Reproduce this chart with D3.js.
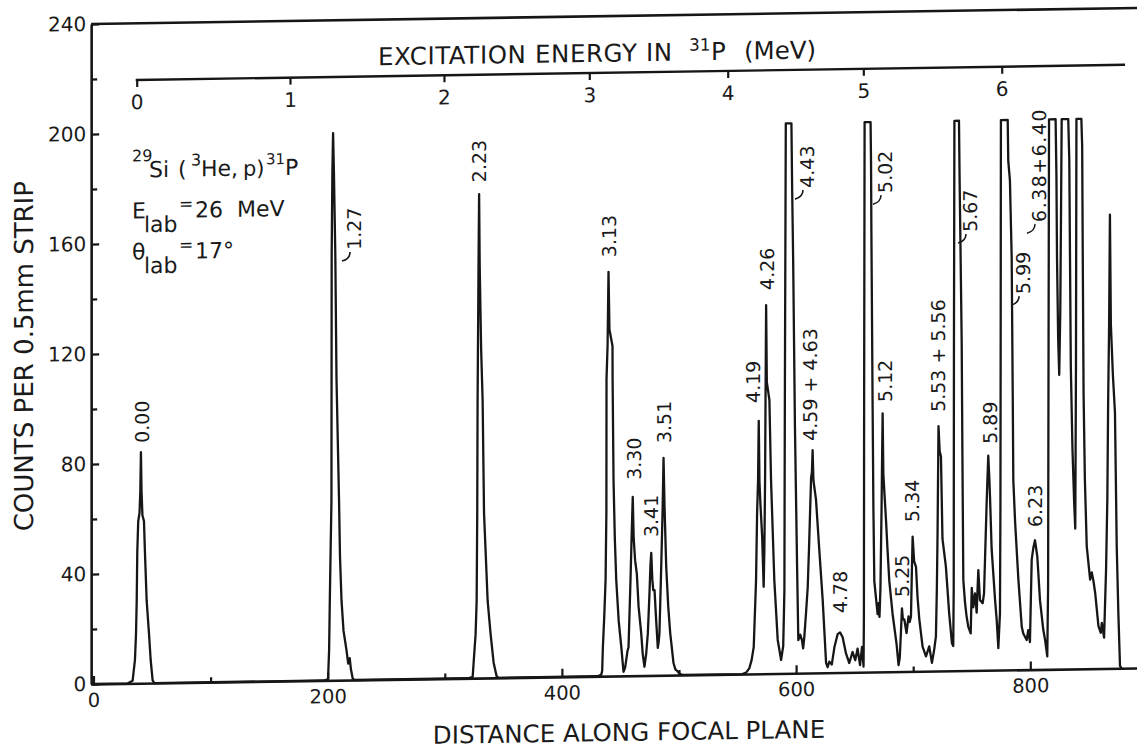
<!DOCTYPE html>
<html>
<head>
<meta charset="utf-8">
<script src="https://cdn.jsdelivr.net/npm/d3@7"></script>
<style>
  body { margin: 0; background: #fff; }
  text { font-family: "DejaVu Sans", sans-serif; fill: #1a1a1a; }
</style>
</head>
<body>
<div id="chart"></div>
<script>
// counts per 0.5 mm strip against distance along the focal plane
var spectrum = [
	[0,0],[29,0],
	[33.4,1],[35.4,8.5],[36.3,18],[36.9,30],[37.4,48],[38.2,59],[39.3,62],[40,70],[40.5,84],[41,70],[41.8,61],[43.1,59],[43.9,48],[45.4,30],[47.4,18],[48.8,8.5],[50.5,1],[52,0],
	[197,0],
	[200.3,0.5],[201.2,11],[201.8,29],[202.6,50],[203.2,65],[203.3,110],[203.4,155],[204,185],[204.6,199],[205.3,185],[206.5,155],[207.5,110],[209.7,65],[210.5,45],[211.8,29],[213.5,18],[216,11],[217.5,6],[218.8,8],[219.8,4],[221.4,0.5],[223,0],
	[320,0],
	[323.8,0.5],[324.6,5.5],[326.3,16],[327.2,28],[327.7,60],[328,101],[328.8,150],[329.3,176],[329.8,150],[331,120],[332.3,101],[333.5,60],[336.6,28],[339.1,16],[341.7,5.5],[344.3,0.5],[346,0],
	[430,0],
	[433.6,0.5],[434.4,2],[435,10.6],[436.2,22],[437.3,35],[438,60],[438.1,108],[439,120],[439.8,147],[440.6,126],[443.2,120],[443.3,108],[444.1,71],[445.2,50],[446.4,35],[448.5,20],[450.7,10.6],[452.6,1.5],[454,3],[455,6],[456,9],[456.9,10.4],
	[458.6,35],[459.5,50],[460.5,65],[461.3,50],[462.5,42],[464,37],[465.5,25],[467.7,15.5],[469,8],[470.5,3.2],
	[472,8],[473.4,15.4],[474.8,30],[475.6,40],[476.3,44.6],[477.2,35],[478,31],[479.1,31],[480.5,20],[481.9,10],[482.6,12],
	[483.3,15.3],[484.8,39.3],[486,60],[486.8,79],[487.6,62],[489.1,39.3],[490.8,25],[492.5,15.3],[495.3,4.4],[497,2],[498.5,1.5],[500.4,0.5],[503,0],
	[554,0],
	[557.3,0.5],[560,2],[562,5],[563.8,9.7],[565.8,34],[566.7,58.5],[567.5,70],[568.1,92],[568.7,70],[569.5,62],[571,50],[572.3,31.6],
	[572.9,45],[573.5,70],[573.9,100],[574.4,134],[575,106],[577.2,99.5],[578.6,70.4],[581.4,34],[584.3,12.2],[587.2,4.9],
	[589,10],[590,30],[590.4,100],[591.2,200],[596,200],[596.6,177],[597.5,150],[599,90],[600.8,40],[601.9,12],[603.5,14],[605,12],[606,9],[607,13],
	[608.5,22],[609.9,31],[611,45],[612.8,71],[613.5,73],[614.1,81],[614.8,70],[617,63],[619.8,44.7],[622.7,26.5],[625.6,3.6],[626.9,2],
	[628.4,4],[630.5,3],[632.7,9.2],[635.5,14],[637.5,14.6],[639.7,12.9],[642.6,6.9],[645.4,3.4],[648.2,7.4],[650.5,4.4],[652.5,8.6],[654.6,2.6],[656.3,9.2],[657.6,2],
	[657.9,20],[658.1,100],[658.5,200],[663.6,200],[664,185],[664.3,160],[664.8,130],[665.3,99],[666,60],[666.8,33],[669.6,21],[670.5,25],[671.2,20],
	[672,30],[673,60],[673.5,80],[673.9,94],[674.5,72],[675.3,66],[676.8,55],[678,45],[679.6,33],[682.4,21],[685.8,10],[687.5,2.4],
	[688.5,5],[689.5,14],[690.4,23],[691.2,19],[692.4,19],[694.3,14],[696,20],[697,18],[698.1,20],[698.8,35],[699.5,49],[700.8,40],[702.4,38],[703.7,27],[705.2,19],
	[708,9],[710.9,5.4],[713.7,9],[716,3],[718,8],[719.4,12.6],[720.2,30],[720.8,50],[721.6,89],[722.6,80],[723.7,78],[725,48],[727.9,38],[730.7,21],[733.1,10],[734.2,9],
	[734.6,30],[734.8,120],[735.2,200],[739.1,200],[739.6,180],[740.5,150],[741.4,120],[742,80],[742.8,33],[744.2,25],[745.5,20],[747,16],[749.1,13.5],
	[750,30],[751.3,23],[752.8,28],[754.2,21],[755.6,36.5],[757,25.6],[759.3,24.4],[760.5,28],[762.8,62],[764.1,78],[765,70],[765.6,63],[767,44],[769.9,25.6],[771.3,18.3],[772.7,8],
	[774.1,20.8],[774.5,60],[774.7,120],[774.9,200],[780.7,200],[781.2,185],[782.6,178],[784.1,150],[785,100],[785.5,69],[787,54],[789.8,33],[792.7,15.6],[794,13.2],[796.9,10.8],[798.3,14.4],[799.7,10],
	[801.2,40],[802.5,44],[804,47],[806,41],[808.3,25],[811.1,14.4],[812.6,10.8],[814.5,4.7],
	[815.2,30],[815.6,120],[816,200],[821.6,200],[822.3,180],[822.8,150],[823.8,120],[824.7,107],[825.6,130],[826.3,170],[826.8,200],
	[832.4,200],[833.3,185],[833.9,150],[834.6,110],[836,80],[837.5,60],[838.4,51],[839,110],[839.4,200],[843.6,200],
	[844.3,190],[844.8,150],[845.5,100],[846.6,69],[848.2,44.5],[851.1,32.4],[852.5,35],[854,31.7],[855.4,27.5],[858.2,15.4],[860.2,13],[861.1,16.6],[863,11.2],
	[864.7,36],[865.8,62],[866.5,98],[867.3,125],[868,165],[868.8,125],[870.5,107],[872.3,93],[873.8,44.5],[875.2,20],[876.6,0.8],[878,0]
];

// level labels (MeV) and where they stand, in strip / count units
var peakNames = ["0.00","1.27","2.23","3.13","3.30","3.41","3.51","4.19","4.26","4.43","4.59 + 4.63","4.78",
	"5.02","5.12","5.25","5.34","5.53 + 5.56","5.67","5.89","5.99","6.23","6.38+6.40"];
var peakNameDist = [41.4,222.5,329.6,440.2,461.6,475.7,487.6,562.8,574.9,609.3,611.9,637.9,
	675.9,675.9,690.2,699.4,721.1,748.5,765.6,793.8,804,807.4];
var peakNameCount = [87.4,156.4,180.3,152.3,71.2,50.3,84.4,98.5,139.5,176.4,84.4,21.6,
	174.1,98.1,27.1,54.3,94.2,159.5,82.3,136.6,51.8,162.7];
var hookedNames = ["1.27","4.43","5.02","5.67","5.99","6.38+6.40"];

var countTicks = [0,40,80,120,160,200,240];
var countMinor = [20,60,100,140,180,220];
var distTicks = [0,200,400,600,800];
var distMinor = [100,300,500,700];
var energyTicks = [0,1,2,3,4,5,6];
var energyTickDist = [36.9,167.8,299.3,423.4,541.6,657.4,775.6];
var energyAxisCount = 219.4;

var ink = "#161616";
var svg = d3.select("#chart").append("svg")
	.attr("width", 1137)
	.attr("height", 751);

var x = d3.scaleLinear().domain([-2, 892]).range([93.5 - 2 * 1.171, 93.5 + 892 * 1.171]);
var y = d3.scaleLinear().domain([0, 240]).range([684, 24]);

// the scanned sheet sits slightly askew
var g = svg.append("g")
	.attr("transform", "translate(93.5,684) skewY(-0.88) translate(-93.5,-684)");

function styleAxis(sel, size) {
	sel.attr("font-size", size).attr("color", ink);
	sel.selectAll("line").attr("stroke-width", 2.2);
	sel.selectAll(".domain").attr("stroke-width", 2.6);
}

// left axis
g.append("g")
	.attr("transform", "translate(" + x(-2) + ",0)")
	.call(d3.axisLeft(y).tickValues(countTicks).tickSize(-8).tickSizeOuter(0).tickPadding(5))
	.call(styleAxis, 20);
g.append("g")
	.attr("transform", "translate(" + x(-2) + ",0)")
	.call(d3.axisLeft(y).tickValues(countMinor).tickSize(-6).tickSizeOuter(0).tickFormat(""))
	.call(styleAxis, 20)
	.call(function(a) { a.select(".domain").remove(); });

// bottom axis
g.append("g")
	.attr("transform", "translate(0," + y(0) + ")")
	.call(d3.axisBottom(x).tickValues(distTicks).tickSize(-8).tickSizeOuter(0).tickPadding(9))
	.call(styleAxis, 19.5);
g.append("g")
	.attr("transform", "translate(0," + y(0) + ")")
	.call(d3.axisBottom(x).tickValues(distMinor).tickSize(-5).tickSizeOuter(0).tickFormat(""))
	.call(styleAxis, 19.5)
	.call(function(a) { a.select(".domain").remove(); });

// top frame line
g.append("line")
	.attr("x1", x(-2)).attr("x2", x(892))
	.attr("y1", y(240)).attr("y2", y(240))
	.attr("stroke", ink).attr("stroke-width", 2.6);

// excitation energy scale
var e = d3.scaleLinear().domain(energyTicks).range(energyTickDist.map(function(d) { return x(d); }));
g.append("g")
	.attr("transform", "translate(0," + y(energyAxisCount) + ")")
	.call(d3.axisBottom(e).tickValues(energyTicks).tickSize(7).tickPadding(8).tickFormat(d3.format("d")))
	.call(styleAxis, 20)
	.call(function(a) { a.select(".domain").remove(); });
g.append("line")
	.attr("x1", x(energyTickDist[0]) - 1).attr("x2", x(880.9))
	.attr("y1", y(energyAxisCount)).attr("y2", y(energyAxisCount))
	.attr("stroke", ink).attr("stroke-width", 2.4);

var et = g.append("text").attr("x", 378).attr("y", 69.5).attr("font-size", 24.5);
et.append("tspan").attr("letter-spacing", 0.6).text("EXCITATION ENERGY IN");
et.append("tspan").attr("x", 689).attr("y", 60).attr("font-size", 17).text("31");
et.append("tspan").attr("x", 711).attr("y", 69.5).text("P");
et.append("tspan").attr("x", 744).text("(MeV)");

// spectrum
var line = d3.line()
	.x(function(d) { return x(d[0]); })
	.y(function(d) { return y(d[1]); });
g.append("path")
	.datum(spectrum)
	.attr("d", line)
	.attr("fill", "none")
	.attr("stroke", ink)
	.attr("stroke-width", 2.3)
	.attr("stroke-linejoin", "round");

// peak labels
peakNames.forEach(function(name, i) {
	var px = x(peakNameDist[i]), py = y(peakNameCount[i]);
	g.append("text")
		.attr("transform", "translate(" + px + "," + py + ") rotate(-90)")
		.attr("dominant-baseline", "central")
		.attr("font-size", 19)
		.attr("letter-spacing", name.indexOf("+") > 0 && name.indexOf(" ") < 0 ? 1.5 : 0)
		.text(name);
	if (hookedNames.indexOf(name) >= 0) {
		g.append("path")
			.attr("d", "M" + (px - 4) + "," + (py + 2) + " q0,7 -8,9")
			.attr("fill", "none")
			.attr("stroke", ink)
			.attr("stroke-width", 1.6);
	}
});

// reaction text
var r1 = g.append("text").attr("font-size", 22);
r1.append("tspan").attr("x", 132).attr("y", 162).attr("font-size", 16).text("29");
r1.append("tspan").attr("x", 149).attr("y", 178).text("Si");
r1.append("tspan").attr("x", 178).attr("y", 178).text("(");
r1.append("tspan").attr("x", 191).attr("y", 167).attr("font-size", 16).text("3");
r1.append("tspan").attr("x", 201).attr("y", 178).text("He,");
r1.append("tspan").attr("x", 243).attr("y", 178).attr("font-size", 21).text("p)");
r1.append("tspan").attr("x", 266).attr("y", 167).attr("font-size", 15).text("31");
r1.append("tspan").attr("x", 285).attr("y", 178).text("P");

var r2 = g.append("text").attr("font-size", 22);
r2.append("tspan").attr("x", 132).attr("y", 219).text("E");
r2.append("tspan").attr("x", 144).attr("y", 233).text("lab");
r2.append("tspan").attr("x", 179).attr("y", 211).attr("font-size", 17).text("=");
r2.append("tspan").attr("x", 195).attr("y", 219).text("26");
r2.append("tspan").attr("x", 237).attr("y", 219).text("MeV");

var r3 = g.append("text").attr("font-size", 22);
r3.append("tspan").attr("x", 132).attr("y", 260).text("\u03b8");
r3.append("tspan").attr("x", 144).attr("y", 274).text("lab");
r3.append("tspan").attr("x", 179).attr("y", 252).attr("font-size", 17).text("=");
r3.append("tspan").attr("x", 195).attr("y", 260).text("17\u00b0");

// axis titles
g.append("text")
	.attr("transform", "translate(24,355) rotate(-90)")
	.attr("text-anchor", "middle")
	.attr("dominant-baseline", "central")
	.attr("font-size", 26)
	.text("COUNTS PER 0.5mm STRIP");
g.append("text")
	.attr("x", 629).attr("y", 749)
	.attr("text-anchor", "middle")
	.attr("font-size", 24.5)
	.text("DISTANCE ALONG FOCAL PLANE");
</script>
</body>
</html>
